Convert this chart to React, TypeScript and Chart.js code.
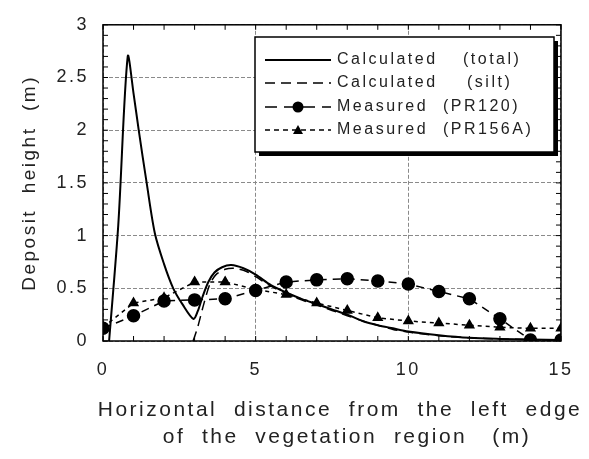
import React, { useEffect, useRef } from "react";
import { Chart, registerables } from "chart.js";

Chart.register(...registerables);

// ---- data ----
const totalX = [0.2, 0.5, 0.81, 1.0, 1.17, 1.43, 1.7, 2.0, 2.3, 2.6, 2.96, 3.1, 3.26, 3.45, 3.65, 3.9, 4.2, 4.6, 5.0, 5.5, 6.0, 6.5, 7.0, 7.5, 8.0, 8.5, 9.0, 9.5, 10.0, 11.0, 12.0, 13.0, 14.0, 15.0];
const totalY = [0.0, 1.1, 2.7, 2.35, 2.0, 1.5, 1.02, 0.73, 0.5, 0.35, 0.21, 0.28, 0.42, 0.56, 0.65, 0.7, 0.72, 0.69, 0.63, 0.53, 0.46, 0.4, 0.35, 0.3, 0.25, 0.19, 0.15, 0.12, 0.09, 0.055, 0.03, 0.02, 0.015, 0.01];

const siltX = [2.95, 3.1, 3.3, 3.5, 3.7, 4.0, 4.3, 4.7, 5.0, 5.5, 6.0, 6.5, 7.0, 7.5, 8.0, 8.5, 9.0, 9.5, 10.0, 11.0, 12.0, 13.0, 14.0, 15.0];
const siltY = [0.0, 0.13, 0.35, 0.54, 0.63, 0.68, 0.69, 0.66, 0.61, 0.52, 0.45, 0.39, 0.34, 0.29, 0.24, 0.19, 0.15, 0.11, 0.085, 0.05, 0.03, 0.02, 0.012, 0.008];

const measuredX = [0, 1, 2, 3, 4, 5, 6, 7, 8, 9, 10, 11, 12, 13, 14, 15];
const pr120Y = [0.12, 0.24, 0.38, 0.39, 0.4, 0.48, 0.56, 0.58, 0.59, 0.57, 0.54, 0.47, 0.4, 0.21, 0.01, 0.01];
const pr156AY = [0.13, 0.36, 0.41, 0.56, 0.56, 0.49, 0.44, 0.36, 0.29, 0.22, 0.19, 0.17, 0.15, 0.13, 0.12, 0.12];

const legendNames = ["Calculated", "Calculated", "Measured", "Measured"];
const legendTags = ["(total)", "(silt)", "(PR120)", "(PR156A)"];

const yTitle = "Deposit  height  (m)";
const xTitle = ["Horizontal  distance  from  the  left  edge", "of  the  vegetation  region   (m)"];

const zip = (xs: number[], ys: number[]) => xs.map((x, i) => ({ x, y: ys[i] }));

const FONT = "Arial, 'Liberation Sans', Helvetica, sans-serif";

const spacingPlugin = {
  id: "spacing",
  beforeDraw(chart: any) {
    (chart.ctx as any).letterSpacing = "2.5px";
  },
};

const framePlugin = {
  id: "frame",
  afterDatasetsDraw(chart: any) {
    const { ctx, chartArea, scales } = chart;
    const { left, right, top, bottom } = chartArea;
    const xs = scales.x;
    const ys = scales.y;
    const line = (x1: number, y1: number, x2: number, y2: number) => {
      ctx.beginPath();
      ctx.moveTo(x1, y1);
      ctx.lineTo(x2, y2);
      ctx.stroke();
    };
    ctx.save();
    ctx.setLineDash([]);
    ctx.strokeStyle = "#000";
    ctx.lineWidth = 1;
    for (let v = 0; v <= 30; v++) {
      const py = ys.getPixelForValue(v / 10);
      line(left, py, left + 5, py);
      line(right - 5, py, right, py);
    }
    for (let v = 0; v <= 15; v++) {
      const px = xs.getPixelForValue(v);
      line(px, bottom, px, bottom - 5);
      line(px, top, px, top + 5);
    }
    ctx.lineWidth = 1.5;
    ctx.strokeRect(left, top, right - left, bottom - top);
    ctx.restore();
  },
};

const xTitlePlugin = {
  id: "xTitle",
  afterDraw(chart: any) {
    const ctx = chart.ctx;
    const { left, right, bottom } = chart.chartArea;
    const cx = (left + right) / 2;
    ctx.save();
    ctx.fillStyle = "#222";
    ctx.font = `21px ${FONT}`;
    (ctx as any).letterSpacing = "2.5px";
    ctx.textAlign = "center";
    ctx.textBaseline = "middle";
    ctx.fillText(xTitle[0], cx + 8, bottom + 69);
    ctx.fillText(xTitle[1], cx + 15, bottom + 96);
    ctx.restore();
  },
};

const legendPlugin = {
  id: "customLegend",
  afterDraw(chart: any) {
    const ctx = chart.ctx;
    const bx = 255, by = 37, bw = 299, bh = 115;
    ctx.save();
    ctx.setLineDash([]);
    ctx.fillStyle = "#000";
    ctx.fillRect(bx + 4, by + 4, bw, bh);
    ctx.fillStyle = "#fff";
    ctx.fillRect(bx, by, bw, bh);
    ctx.strokeStyle = "#000";
    ctx.lineWidth = 1.5;
    ctx.strokeRect(bx, by, bw, bh);

    const rows = [60, 83, 107, 130];
    const dashes = [[], [10, 6], [12, 7], [5, 4]];
    chart.data.datasets.forEach((ds: any, i: number) => {
      const ry = rows[i];
      ctx.save();
      ctx.strokeStyle = "#000";
      ctx.lineWidth = ds.borderWidth;
      ctx.setLineDash(dashes[i]);
      ctx.beginPath();
      ctx.moveTo(265, ry);
      ctx.lineTo(331, ry);
      ctx.stroke();
      ctx.setLineDash([]);
      ctx.fillStyle = "#000";
      if (ds.pointStyle === "circle" && ds.pointRadius > 0) {
        ctx.beginPath();
        ctx.arc(298, ry, 5.5, 0, Math.PI * 2);
        ctx.fill();
      } else if (ds.pointStyle === "triangle" && ds.pointRadius > 0) {
        ctx.beginPath();
        ctx.moveTo(298, ry - 5);
        ctx.lineTo(303, ry + 4);
        ctx.lineTo(293, ry + 4);
        ctx.closePath();
        ctx.fill();
      }
      ctx.restore();
      ctx.fillStyle = "#222";
      ctx.font = `16px ${FONT}`;
      ctx.textBaseline = "middle";
      ctx.textAlign = "left";
      (ctx as any).letterSpacing = "2.5px";
      ctx.fillText(legendNames[i], 337, ry);
      const tagX = [463, 467, 443, 443][i];
      ctx.fillText(legendTags[i], tagX, ry);
    });
    ctx.restore();
  },
};

export default function App() {
  const ref = useRef<HTMLCanvasElement | null>(null);
  useEffect(() => {
    document.body.style.margin = "0";
    if (!ref.current) return;
    const chart = new Chart(ref.current, {
      type: "line",
      data: {
        datasets: [
          {
            label: "Calculated (total)",
            data: zip(totalX, totalY),
            borderColor: "#000",
            borderWidth: 2,
            pointRadius: 0,
            pointStyle: "line",
            tension: 0.3,
            fill: false,
          },
          {
            label: "Calculated (silt)",
            data: zip(siltX, siltY),
            borderColor: "#000",
            borderWidth: 1.5,
            borderDash: [10, 6],
            pointRadius: 0,
            pointStyle: "line",
            tension: 0.25,
            fill: false,
          },
          {
            label: "Measured (PR120)",
            data: zip(measuredX, pr120Y),
            borderColor: "#000",
            backgroundColor: "#000",
            borderWidth: 1.5,
            borderDash: [8, 6],
            pointStyle: "circle",
            pointRadius: 6,
            pointBackgroundColor: "#000",
            pointBorderColor: "#000",
            tension: 0,
            fill: false,
          },
          {
            label: "Measured (PR156A)",
            data: zip(measuredX, pr156AY),
            borderColor: "#000",
            backgroundColor: "#000",
            borderWidth: 1.5,
            borderDash: [4, 4],
            pointStyle: "triangle",
            pointRadius: 5,
            pointBackgroundColor: "#000",
            pointBorderColor: "#000",
            tension: 0,
            fill: false,
          },
        ],
      },
      options: {
        animation: false,
        responsive: false,
        devicePixelRatio: 1,
        layout: { padding: { left: 0, top: 15, right: 26, bottom: 0 } },
        plugins: {
          legend: { display: false },
          tooltip: { enabled: false },
        },
        scales: {
          x: {
            type: "linear",
            min: 0,
            max: 15,
            ticks: {
              stepSize: 5,
              padding: 18,
              color: "#222",
              font: { family: FONT, size: 18 },
              maxRotation: 0,
            },
            grid: { color: "#8a8a8a", lineWidth: 1, drawTicks: false },
            border: { display: false, dash: [4, 2] },
            title: { display: false },
            afterFit: (s: any) => {
              s.height = 118;
            },
          },
          y: {
            type: "linear",
            min: 0,
            max: 3,
            ticks: {
              stepSize: 0.5,
              padding: 14,
              color: "#222",
              font: { family: FONT, size: 18 },
              callback: (v: any) => String(v),
            },
            grid: { color: "#8a8a8a", lineWidth: 1, drawTicks: false },
            border: { display: false, dash: [4, 2] },
            title: {
              display: true,
              text: yTitle,
              color: "#222",
              font: { family: FONT, size: 19 },
              padding: { top: 18, bottom: 0 },
            },
            afterFit: (s: any) => {
              s.width = 103;
            },
          },
        },
      } as any,
      plugins: [spacingPlugin, framePlugin, xTitlePlugin, legendPlugin],
    });
    return () => chart.destroy();
  }, []);
  return (
    <div style={{ width: 589, height: 459 }}>
      <canvas ref={ref} width={589} height={459} />
    </div>
  );
}
